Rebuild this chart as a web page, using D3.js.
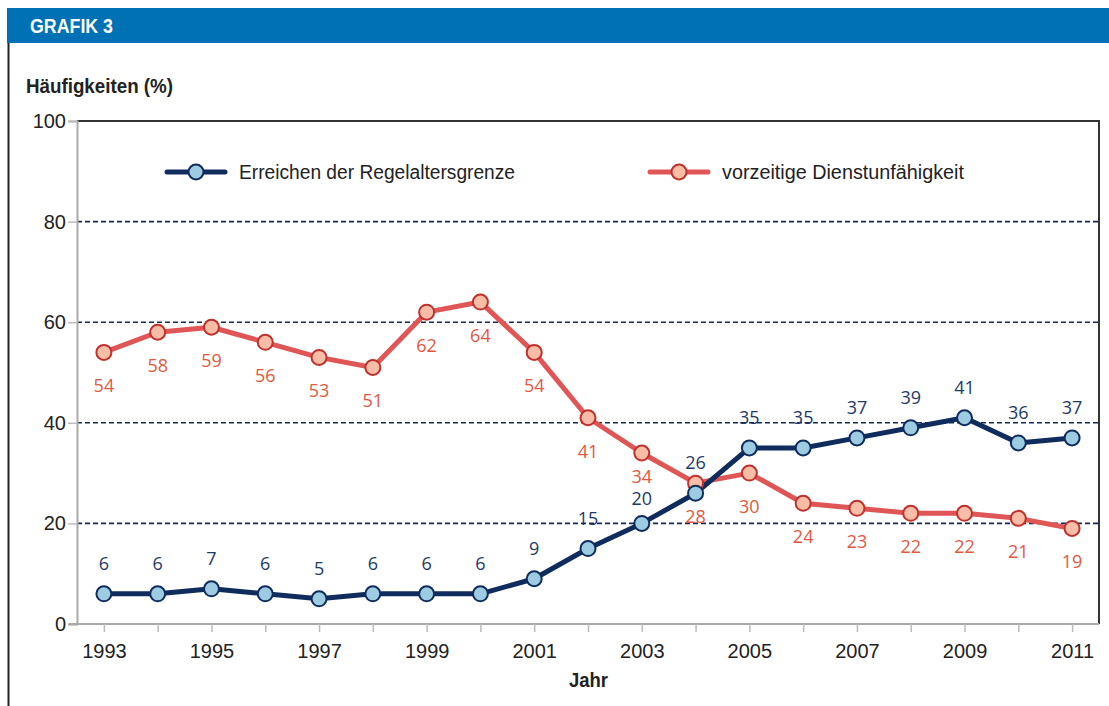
<!DOCTYPE html>
<html>
<head>
<meta charset="utf-8">
<script src="https://cdn.jsdelivr.net/npm/d3@7"></script>
<style>
  body { margin: 0; background: #fff; }
  svg { display: block; }
</style>
</head>
<body>
<script>
const years = d3.range(1993, 2012);
const regel = [6, 6, 7, 6, 5, 6, 6, 6, 9, 15, 20, 26, 35, 35, 37, 39, 41, 36, 37];
const dienst = [54, 58, 59, 56, 53, 51, 62, 64, 54, 41, 34, 28, 30, 24, 23, 22, 22, 21, 19];
const yTicks = [0, 20, 40, 60, 80, 100];
const gridTicks = [20, 40, 60, 80];
const xLabels = [1993, 1995, 1997, 1999, 2001, 2003, 2005, 2007, 2009, 2011];

const width = 1109, height = 706;
const margin = { left: 77, right: 10, top: 121, bottom: 82 };

const svg = d3.select('body').append('svg')
  .attr('width', width)
  .attr('height', height);

const font = '"Liberation Sans", Arial, sans-serif';
const labelFont = '"Open Sans", sans-serif';

// condensed looking text: squeeze to the width seen in the picture
function narrowText(sel, txt, w) {
  return sel.text(txt)
    .attr('textLength', w)
    .attr('lengthAdjust', 'spacingAndGlyphs');
}

// header bar
svg.append('rect')
  .attr('x', 7).attr('y', 8)
  .attr('width', width - 7).attr('height', 35)
  .attr('fill', '#0071b5');
narrowText(svg.append('text')
  .attr('x', 30).attr('y', 33)
  .attr('fill', '#fff')
  .style('font-family', font)
  .style('font-weight', 'bold')
  .style('font-size', '20px'), 'GRAFIK 3', 83);

// left frame line
svg.append('line')
  .attr('x1', 8.5).attr('x2', 8.5)
  .attr('y1', 43).attr('y2', height)
  .attr('stroke', '#222').attr('stroke-width', 2);

narrowText(svg.append('text')
  .attr('x', 26).attr('y', 93)
  .attr('fill', '#222')
  .style('font-family', font)
  .style('font-weight', 'bold')
  .style('font-size', '20px'), 'Häufigkeiten (%)', 147);

const xScale = d3.scaleLinear()
  .domain([1992.5, 2011.5])
  .range([margin.left, width - margin.right]);

const yScale = d3.scaleLinear()
  .domain([0, 100])
  .range([height - margin.bottom, margin.top]);

// top & right frame of plot
svg.append('path')
  .attr('d', `M${margin.left},${yScale(100)}H${xScale(2011.5)}V${yScale(0)}`)
  .attr('fill', 'none')
  .attr('stroke', '#333')
  .attr('stroke-width', 2);

// dashed grid
svg.append('g')
  .selectAll('line')
  .data(gridTicks)
  .join('line')
  .attr('x1', margin.left).attr('x2', xScale(2011.5))
  .attr('y1', d => yScale(d)).attr('y2', d => yScale(d))
  .attr('stroke', '#14285a')
  .attr('stroke-width', 1.6)
  .attr('stroke-dasharray', '5,3');

// y axis
const yAxis = svg.append('g')
  .attr('transform', `translate(${margin.left},0)`)
  .call(d3.axisLeft(yScale).tickValues(yTicks).tickSize(9).tickPadding(2));
yAxis.select('.domain').attr('stroke', '#aaa').attr('stroke-width', 2);
yAxis.selectAll('.tick line').attr('stroke', '#bbb').attr('stroke-width', 1.5);
yAxis.selectAll('.tick text')
  .attr('fill', '#222')
  .style('font-family', font)
  .style('font-size', '20px');

// x axis
const xAxis = svg.append('g')
  .attr('transform', `translate(0,${yScale(0)})`)
  .call(d3.axisBottom(xScale).tickValues(years).tickSize(8).tickPadding(12)
    .tickFormat(d => xLabels.includes(d) ? d : ''));
xAxis.select('.domain').attr('stroke', '#aaa').attr('stroke-width', 2)
  .attr('d', `M${margin.left - 8},0H${xScale(2011.5)}`);
xAxis.selectAll('.tick line').attr('stroke', '#bbb').attr('stroke-width', 1.5);
xAxis.selectAll('.tick text')
  .attr('fill', '#222')
  .style('font-family', font)
  .style('font-size', '20px');

narrowText(svg.append('text')
  .attr('x', xScale(2002) - 19).attr('y', 687)
  .attr('fill', '#222')
  .style('font-family', font)
  .style('font-weight', 'bold')
  .style('font-size', '20px'), 'Jahr', 39);

const series = [
  { values: dienst, line: '#e05656', fill: '#f8bda6', stroke: '#c0302c', label: '#e3583f', dy: 40 },
  { values: regel, line: '#0f2c5c', fill: '#9ccbe2', stroke: '#0f2c5c', label: '#1e3a66', dy: -24 }
];

const line = d3.line()
  .x((d, i) => xScale(years[i]))
  .y(d => yScale(d));

series.forEach(s => {
  svg.append('path')
    .datum(s.values)
    .attr('d', line)
    .attr('fill', 'none')
    .attr('stroke', s.line)
    .attr('stroke-width', 5)
    .attr('stroke-linejoin', 'round');
});

series.forEach(s => {
  svg.append('g')
    .selectAll('circle')
    .data(s.values)
    .join('circle')
    .attr('cx', (d, i) => xScale(years[i]))
    .attr('cy', d => yScale(d))
    .attr('r', 7.5)
    .attr('fill', s.fill)
    .attr('stroke', s.stroke)
    .attr('stroke-width', 2);

  svg.append('g')
    .selectAll('text')
    .data(s.values)
    .join('text')
    .attr('x', (d, i) => xScale(years[i]))
    // the two labels of 2003 sit closer to their points so they do not collide
    .attr('y', (d, i) => yScale(d) + (years[i] === 2003 ? s.dy * 0.75 : s.dy))
    .attr('text-anchor', 'middle')
    .attr('fill', s.label)
    .style('font-family', labelFont)
    .style('font-size', '18px')
    .text(d => d);
});

// legend
const legend = [
  { name: 'Erreichen der Regelaltersgrenze', s: series[1], x: 167, w: 276 },
  { name: 'vorzeitige Dienstunfähigkeit', s: series[0], x: 650, w: 242 }
];
legend.forEach(l => {
  const g = svg.append('g').attr('transform', `translate(${l.x},172)`);
  g.append('line')
    .attr('x1', 0).attr('x2', 58)
    .attr('stroke', l.s.line)
    .attr('stroke-width', 5)
    .attr('stroke-linecap', 'round');
  g.append('circle')
    .attr('cx', 29).attr('r', 7.5)
    .attr('fill', l.s.fill)
    .attr('stroke', l.s.stroke)
    .attr('stroke-width', 2);
  narrowText(g.append('text')
    .attr('x', 72).attr('y', 7)
    .attr('fill', '#222')
    .style('font-family', font)
    .style('font-size', '20px'), l.name, l.w);
});
</script>
</body>
</html>
